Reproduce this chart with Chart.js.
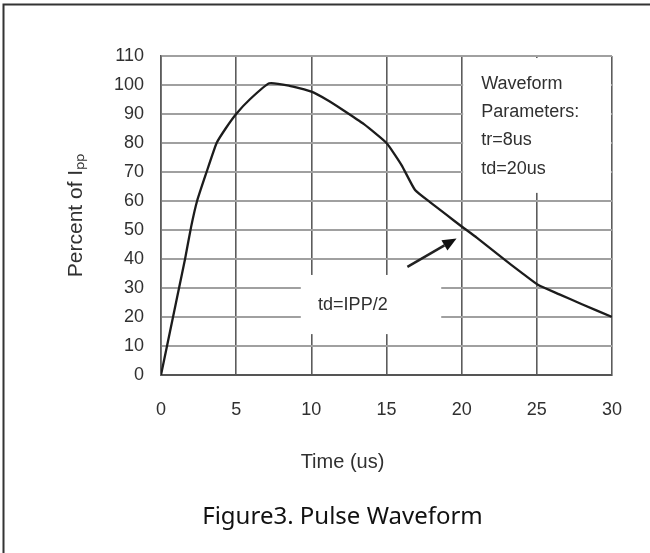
<!DOCTYPE html>
<html>
<head>
<meta charset="utf-8">
<title>Pulse Waveform</title>
<script src="https://cdn.jsdelivr.net/npm/chart.js@4.4.1/dist/chart.umd.min.js"></script>
<style>
  html, body { margin: 0; padding: 0; background: #fff; }
  #wrap { width: 650px; height: 553px; }
</style>
</head>
<body>
<div id="wrap"><canvas id="pulseChart" width="650" height="553"></canvas></div>
<script>
// Curve: time (us) vs percent of Ipp
const timeUs     = [0, 0.4, 0.8, 1.2, 1.6, 2.0, 2.4, 3.0, 3.7, 4.3, 5.0, 5.9, 7.2, 8.5, 10, 11, 12.1, 13.5, 15, 16, 16.9, 18, 19, 20, 21, 22.6, 24, 25.1, 26.5, 28, 30];
const percentIpp = [0, 10, 20, 30, 40, 51, 60, 69.5, 80, 85, 90, 95, 100.6, 99.8, 97.7, 95, 91.4, 86.5, 80, 72.4, 63.8, 59.2, 55.2, 51.2, 47.4, 40.8, 35.2, 31, 27.8, 24.4, 20];

// Axis ticks
const xTickValues = [0, 5, 10, 15, 20, 25, 30];
const yTickValues = [0, 10, 20, 30, 40, 50, 60, 70, 80, 90, 100, 110];

// Notes written on the plot
const paramLines = ["Waveform", "Parameters:", "tr=8us", "td=20us"];
const halfLabel = "td=IPP/2";

const tickFont = { family: "'Liberation Sans', Arial, sans-serif", size: 18 };
const labelFont = "18px 'Liberation Sans', Arial, sans-serif";
const textGray = "#303030";

// white boxes behind the notes, the arrow and the notes themselves
const notesPlugin = {
    id: "notes",
    beforeDatasetsDraw(chart) {
        const { ctx, scales: { x, y } } = chart;
        ctx.save();
        ctx.fillStyle = "#fff";
        // box behind waveform parameters
        ctx.fillRect(x.getPixelForValue(20.1), y.getPixelForValue(109.3),
            x.getPixelForValue(29.93) - x.getPixelForValue(20.1),
            y.getPixelForValue(62.8) - y.getPixelForValue(109.3));
        // box behind td=IPP/2
        ctx.fillRect(x.getPixelForValue(9.3), y.getPixelForValue(34.5),
            x.getPixelForValue(18.64) - x.getPixelForValue(9.3),
            y.getPixelForValue(14.1) - y.getPixelForValue(34.5));
        ctx.restore();
    },
    afterDatasetsDraw(chart) {
        const { ctx, scales: { x, y } } = chart;
        ctx.save();
        ctx.fillStyle = textGray;
        ctx.font = labelFont;
        ctx.textBaseline = "middle";
        ctx.textAlign = "left";
        const px = x.getPixelForValue(21.3);
        const py = y.getPixelForValue(100.3);
        paramLines.forEach((t, i) => ctx.fillText(t, px, py + i * 28.2));
        ctx.fillText(halfLabel, x.getPixelForValue(10.45), y.getPixelForValue(24.1));

        // arrow pointing at the 50% point
        const x0 = x.getPixelForValue(16.39), y0 = y.getPixelForValue(37.3);
        const x1 = x.getPixelForValue(19.66), y1 = y.getPixelForValue(47.1);
        const ang = Math.atan2(y1 - y0, x1 - x0);
        const len = 14, half = 6;
        const bx = x1 - len * Math.cos(ang), by = y1 - len * Math.sin(ang);
        ctx.strokeStyle = "#222";
        ctx.lineWidth = 2.5;
        ctx.beginPath();
        ctx.moveTo(x0, y0);
        ctx.lineTo(bx, by);
        ctx.stroke();
        ctx.fillStyle = "#111";
        ctx.beginPath();
        ctx.moveTo(x1, y1);
        ctx.lineTo(bx + half * Math.sin(ang), by - half * Math.cos(ang));
        ctx.lineTo(bx - half * Math.sin(ang), by + half * Math.cos(ang));
        ctx.closePath();
        ctx.fill();
        ctx.restore();
    },
    afterDraw(chart) {
        // frame lines on top and left of the picture
        const ctx = chart.ctx;
        ctx.save();
        ctx.strokeStyle = "#333";
        ctx.lineWidth = 2;
        ctx.beginPath();
        ctx.moveTo(3.5, 553);
        ctx.lineTo(3.5, 4.5);
        ctx.lineTo(650, 4.5);
        ctx.stroke();
        ctx.restore();
    }
};

const ctx = document.getElementById("pulseChart").getContext("2d");
new Chart(ctx, {
    type: "scatter",
    data: {
        datasets: [{
            label: "Percent of Ipp",
            data: timeUs.map((t, i) => ({ x: t, y: percentIpp[i] })),
            showLine: true,
            borderColor: "#1c1c1c",
            borderWidth: 2.3,
            pointRadius: 0,
            tension: 0.15,
            fill: false,
        }],
    },
    options: {
        responsive: false,
        animation: false,
        events: [],
        layout: { padding: { left: 73, right: 38, top: 56, bottom: 0 } },
        plugins: {
            legend: { display: false },
            tooltip: { enabled: false },
            title: {
                display: true,
                position: "bottom",
                text: "Figure3. Pulse Waveform",
                color: "#111",
                font: { family: "'Noto Sans', sans-serif", size: 24, weight: "normal" },
                padding: { top: 10, bottom: 21.6 },
            },
            subtitle: {
                display: true,
                position: "bottom",
                text: "Time (us)",
                color: textGray,
                font: { family: "'Liberation Sans', Arial, sans-serif", size: 20 },
                padding: { top: 5, bottom: 18.6 },
            },
        },
        scales: {
            x: {
                type: "linear",
                min: 0,
                max: 30,
                afterBuildTicks: (s) => { s.ticks = xTickValues.map(v => ({ value: v })); },
                afterFit: (s) => { s.height = 70; },
                ticks: { color: textGray, font: tickFont, padding: 24, maxRotation: 0 },
                grid: { color: "#5c5c5c", lineWidth: 1.6, drawTicks: false },
                border: { color: "#555", width: 2 },
            },
            y: {
                min: 0,
                max: 110,
                afterBuildTicks: (s) => { s.ticks = yTickValues.map(v => ({ value: v })); },
                afterFit: (s) => { s.width = 88; },
                ticks: { color: textGray, font: tickFont, padding: 17 },
                grid: { color: "#a0a0a0", lineWidth: 2, drawTicks: false },
                border: { color: "#5c5c5c", width: 1.6 },
                title: {
                    display: true,
                    text: "Percent of Iₚₚ",
                    color: textGray,
                    font: { family: "'Liberation Sans', Arial, sans-serif", size: 21 },
                    padding: { top: -9, bottom: 0 },
                },
            },
        },
    },
    plugins: [notesPlugin],
});
</script>
</body>
</html>
